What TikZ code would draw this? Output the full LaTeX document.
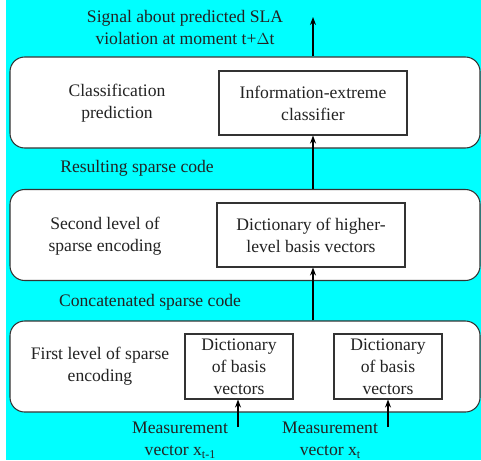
\documentclass[tikz,border=0pt]{standalone}
\usepackage{fontspec}
\setmainfont{Liberation Serif}
\usetikzlibrary{arrows.meta}
\definecolor{bgcyan}{RGB}{0,255,255}
\definecolor{txt}{RGB}{35,35,35}
\begin{document}
\begin{tikzpicture}[x=0.75pt,y=-0.75pt,
  outer/.style={draw=black!80,line width=0.8pt,rounded corners=11pt,fill=white,minimum width=470*0.75pt,minimum height=91*0.75pt,inner sep=0pt},
  inner/.style={draw=black!80,line width=0.8pt,fill=white,inner sep=0pt},
  lbl/.style={font=\fontsize{13.2}{16.5}\selectfont,align=center,text=txt,inner sep=0pt},
  arr/.style={line width=0.8pt,-{Stealth[length=6pt,width=4.5pt]}}]
\useasboundingbox (0,0) rectangle (481,460);
\fill[white] (0,0) rectangle (481,460);
\fill[bgcyan] (6,0) rectangle (481,460);
% boxes
\node[outer] (b3) at (245,102.5) {};
\node[outer] (b2) at (245,235) {};
\node[outer] (b1) at (245,366.5) {};
\node[inner,minimum width=188*0.75pt,minimum height=64*0.75pt] (cls) at (313,103) {};
\node[lbl] at (cls) {Information-extreme\\classifier};
\node[inner,minimum width=188*0.75pt,minimum height=64*0.75pt] (dict2) at (311,235) {};
\node[lbl] at (dict2) {Dictionary of higher-\\level basis vectors};
\node[inner,minimum width=108*0.75pt,minimum height=65*0.75pt] (d1) at (239,366.5) {};
\node[lbl] at (d1) {Dictionary\\of basis\\vectors};
\node[inner,minimum width=108*0.75pt,minimum height=65*0.75pt] (d2) at (388,366.5) {};
\node[lbl] at (d2) {Dictionary\\of basis\\vectors};
% labels
\node[lbl] (sig) at (185,27) {Signal about predicted SLA\\violation at moment t+$\Delta$t};
\node[lbl] (clp) at (117,103) {Classification\\prediction};
\node[lbl] (res) at (137,168) {Resulting sparse code};
\node[lbl] (sec) at (105,236) {Second level of\\sparse encoding};
\node[lbl] (con) at (150,302) {Concatenated sparse code};
\node[lbl] (fst) at (100,366) {First level of sparse\\encoding};
\node[lbl] (m1) at (180,440) {Measurement\\vector x\raisebox{-0.35ex}{\fontsize{9}{9}\selectfont t-1}};
\node[lbl] (m2) at (330,440) {Measurement\\vector x\raisebox{-0.35ex}{\fontsize{9}{9}\selectfont t}};
% connectors
\coordinate (top) at (313,17);
\coordinate (in1) at (238,427);
\coordinate (in2) at (388,427);
\draw[arr] (top |- b3.north) -- (top);
\draw[arr] (cls.south |- b2.north) -- (cls.south);
\draw[arr] (313,0 |- b1.north) -- (313,0 |- dict2.south);
\draw[arr] (in1) -- (in1 |- d1.south);
\draw[arr] (in2) -- (in2 |- d2.south);
\end{tikzpicture}
\end{document}
